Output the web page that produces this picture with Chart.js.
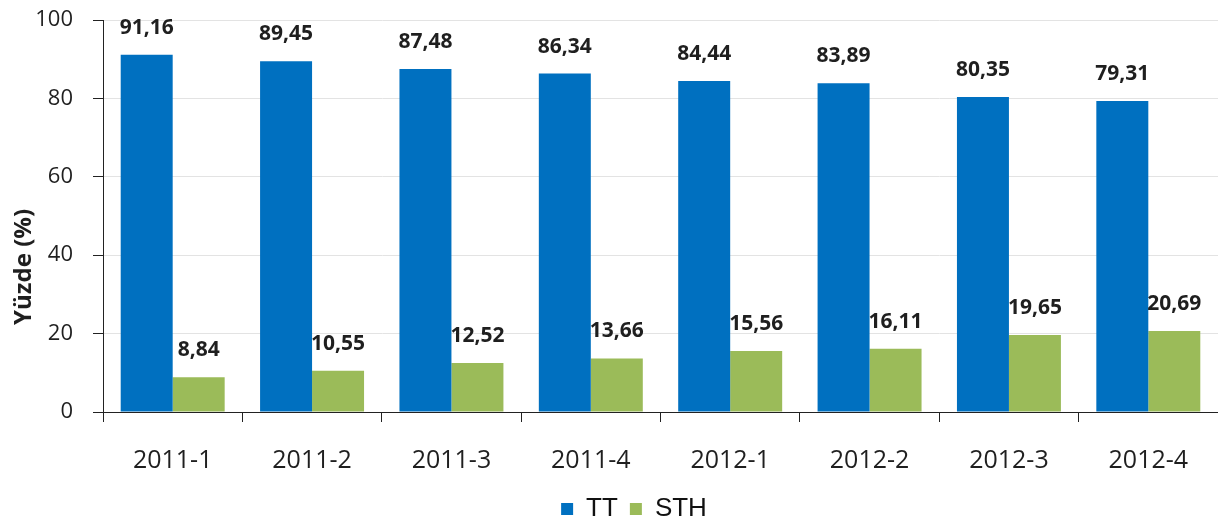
<!DOCTYPE html>
<html>
<head>
<meta charset="utf-8">
<script src="https://cdn.jsdelivr.net/npm/chart.js@4"></script>
<style>
  html, body { margin: 0; padding: 0; background: #fff; overflow: hidden; }
  #wrap { width: 1218px; height: 525px; }
</style>
</head>
<body>
<div id="wrap"><canvas id="myChart"></canvas></div>
<script>
const periods = ["2011-1", "2011-2", "2011-3", "2011-4", "2012-1", "2012-2", "2012-3", "2012-4"];
const ttValues = [91.16, 89.45, 87.48, 86.34, 84.44, 83.89, 80.35, 79.31];
const sthValues = [8.84, 10.55, 12.52, 13.66, 15.56, 16.11, 19.65, 20.69];
const yTicks = [0, 20, 40, 60, 80, 100];
const yTitle = "Yüzde (%)";

const TEXT = "#1f1f1f";

// values above bars, turkish decimal comma
const valueLabels = {
  id: "valueLabels",
  afterDatasetsDraw(chart) {
    const { ctx } = chart;
    ctx.save();
    ctx.font = "bold 21px 'Open Sans'";
    ctx.fillStyle = TEXT;
    ctx.textAlign = "center";
    ctx.textBaseline = "middle";
    chart.data.datasets.forEach((ds, i) => {
      chart.getDatasetMeta(i).data.forEach((bar, j) => {
        const txt = ds.data[j].toFixed(2).replace(".", ",");
        ctx.fillText(txt, bar.x, bar.y - 27);
      });
    });
    ctx.restore();
  },
};

// y title sits lower than the plot middle in the original, so draw it here
const axisTitle = {
  id: "axisTitle",
  afterDraw(chart) {
    const { ctx } = chart;
    const y = chart.scales.y;
    ctx.save();
    ctx.translate(24, y.getPixelForValue(37));
    ctx.rotate(-Math.PI / 2);
    ctx.font = "bold 24px 'Open Sans'";
    ctx.fillStyle = TEXT;
    ctx.textAlign = "center";
    ctx.textBaseline = "middle";
    ctx.fillText(yTitle, 0, 0);
    ctx.restore();
  },
};

// legend sits a bit right of canvas centre and lower in the original
const legendShift = {
  id: "legendShift",
  afterLayout(chart) {
    const lg = chart.legend;
    lg.left += 25;
    lg.right += 25;
    lg.top += 7;
    lg.bottom += 7;
  },
};

const ctx = document.querySelector("canvas#myChart").getContext("2d");
const myChart = new Chart(ctx, {
  type: "bar",
  data: {
    labels: periods,
    datasets: [
      { label: "TT", data: ttValues, backgroundColor: "#0070C0" },
      { label: "STH", data: sthValues, backgroundColor: "#9BBB59" },
    ],
  },
  options: {
    responsive: true,
    maintainAspectRatio: false,
    animation: false,
    layout: { padding: { top: 20, right: 0, left: 0, bottom: 0 } },
    datasets: { bar: { barPercentage: 1, categoryPercentage: 0.746 } },
    plugins: {
      tooltip: { enabled: false },
      legend: {
        position: "bottom",
        labels: {
          font: { family: "'Liberation Sans'", size: 26 },
          color: "#111",
          boxWidth: 12,
          boxHeight: 12,
          padding: 12,
        },
      },
    },
    scales: {
      x: {
        afterFit(scale) { scale.height = 65; },
        grid: { offset: true, drawOnChartArea: false, tickLength: 10, tickColor: "#222" },
        border: { color: "#222" },
        ticks: { font: { family: "'Open Sans'", size: 25 }, color: TEXT, padding: 24 },
      },
      y: {
        min: 0,
        max: 100,
        afterFit(scale) {
          scale.width = 103;
          scale.paddingTop = 0;
          scale.paddingBottom = 0;
        },
        afterBuildTicks(scale) { scale.ticks = yTicks.map((v) => ({ value: v })); },
        grid: { color: "#E3E3E3", tickLength: 10, tickColor: "#222" },
        border: { color: "#222" },
        ticks: { font: { family: "'Open Sans'", size: 22 }, color: TEXT, padding: 20 },
      },
    },
  },
  plugins: [valueLabels, axisTitle, legendShift],
});
</script>
</body>
</html>
